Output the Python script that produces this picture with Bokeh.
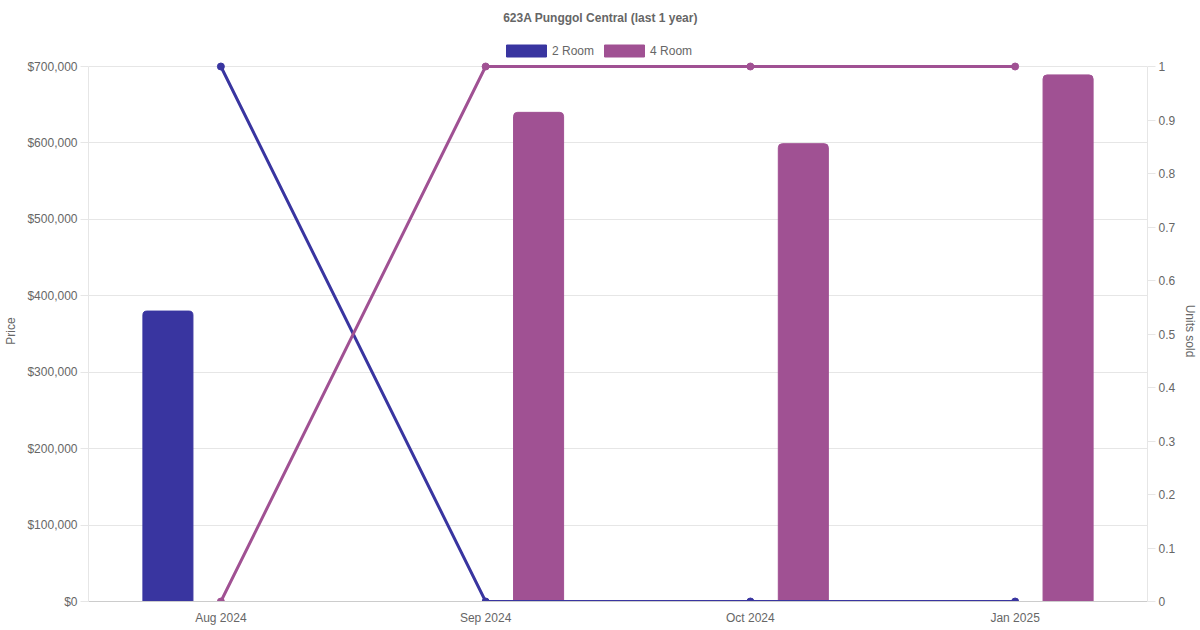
from bokeh.plotting import figure
from bokeh.layouts import column
from bokeh.models import (Range1d, LinearAxis, FactorRange, FixedTicker, NumeralTickFormatter,
                          CustomJSTickFormatter, Legend, LegendItem, ColumnDataSource, Label)
from bokeh.transform import dodge
from bokeh.embed import file_html
from bokeh.resources import INLINE

# ---- data ----
months = ["Aug 2024", "Sep 2024", "Oct 2024", "Jan 2025"]
price_2room = [380000, None, None, None]
price_4room = [None, 640000, 599000, 689000]
units_2room = [1, 0, 0, 0]
units_4room = [0, 1, 1, 1]
price_ticks = [0, 100000, 200000, 300000, 400000, 500000, 600000, 700000]
units_ticks = [0, 0.1, 0.2, 0.3, 0.4, 0.5, 0.6, 0.7, 0.8, 0.9, 1.0]
series_names = ["2 Room", "4 Room"]
title_text = "623A Punggol Central (last 1 year)"

C2 = "#3935a0"
C4 = "#a05193"
FONT = "Liberation Sans"
TXT = "#666666"
GRID = "#e6e6e6"

W = 1200
HEAD_H = 58                      # header strip: title + legend
MAIN_H = 630 - HEAD_H
LEFT, RIGHT, BOTTOM, TOP = 88, 53, 29, 2
FRAME_H = MAIN_H - TOP - BOTTOM
DATA_H = 535                     # pixel height of the 0..max band
ext = FRAME_H / DATA_H           # small headroom so top markers are not clipped

# ---------------- header (title + legend) ----------------
# (the column aligns the header's frame with the chart frame, which starts at LEFT)
head = figure(width=W, height=HEAD_H, x_range=Range1d(0, 1), y_range=Range1d(0, 1),
              x_axis_location=None, y_axis_location=None,
              output_backend="svg", toolbar_location=None,
              min_border_left=0, min_border_right=0, min_border_top=0, min_border_bottom=0)
head.grid.grid_line_color = None
head.outline_line_color = None
# legend proxies: placed outside the visible header range, only their swatches show
hb2 = head.vbar(x=[-5], top=[0], width=0.1, fill_color=C2, line_color=C2)
hb4 = head.vbar(x=[-5], top=[0], width=0.1, fill_color=C4, line_color=C4)
legend = Legend(items=[LegendItem(label=series_names[0], renderers=[hb2]),
                       LegendItem(label=series_names[1], renderers=[hb4])],
                orientation="horizontal", location=(501 - LEFT, 0),
                glyph_width=50, glyph_height=15, label_standoff=1, spacing=5,
                padding=0, margin=0, border_line_color=None, background_fill_alpha=0,
                label_text_font=FONT, label_text_font_size="12px", label_text_color=TXT)
head.add_layout(legend, "center")
head.add_layout(Label(x=W / 2 - LEFT, y=HEAD_H - 17, x_units="screen", y_units="screen",
                      text=title_text, text_align="center", text_baseline="middle",
                      text_font=FONT, text_font_size="12px", text_font_style="bold",
                      text_color=TXT))

# ---------------- main chart ----------------
p = figure(width=W, height=MAIN_H, x_range=FactorRange(factors=months),
           y_range=Range1d(0, price_ticks[-1] * ext), output_backend="svg",
           toolbar_location=None, min_border_left=LEFT, min_border_right=RIGHT,
           min_border_top=TOP, min_border_bottom=BOTTOM)
p.extra_y_ranges = {"units": Range1d(0, units_ticks[-1] * ext)}
p.outline_line_color = None

src2 = ColumnDataSource(dict(month=[m for m, v in zip(months, price_2room) if v is not None],
                             price=[v for v in price_2room if v is not None]))
src4 = ColumnDataSource(dict(month=[m for m, v in zip(months, price_4room) if v is not None],
                             price=[v for v in price_4room if v is not None]))

p.vbar(x=dodge("month", -0.2, range=p.x_range), top="price", width=0.189, source=src2,
       fill_color=C2, line_color=C2, border_radius=(4, 4, 0, 0))
p.vbar(x=dodge("month", 0.2, range=p.x_range), top="price", width=0.189, source=src4,
       fill_color=C4, line_color=C4, border_radius=(4, 4, 0, 0))

p.line(months, units_2room, y_range_name="units", line_color=C2, line_width=3)
p.scatter(months, units_2room, y_range_name="units", size=7, fill_color=C2, line_color=C2)
p.line(months, units_4room, y_range_name="units", line_color=C4, line_width=3)
p.scatter(months, units_4room, y_range_name="units", size=7, fill_color=C4, line_color=C4)

p.xgrid.grid_line_color = None
p.ygrid.grid_line_color = GRID
p.ygrid.ticker = FixedTicker(ticks=price_ticks)

xa = p.xaxis[0]
xa.axis_line_color = "#cccccc"
xa.major_tick_line_color = None
xa.major_tick_out = 0
xa.major_tick_in = 0
xa.minor_tick_line_color = None
xa.major_label_standoff = 9
xa.major_label_text_font = FONT
xa.major_label_text_font_size = "12px"
xa.major_label_text_color = TXT

ya = p.yaxis[0]
ya.ticker = FixedTicker(ticks=price_ticks)
ya.formatter = NumeralTickFormatter(format="$0,0")
ya.bounds = (price_ticks[0], price_ticks[-1])
ya.axis_line_color = GRID
ya.major_tick_line_color = GRID
ya.major_tick_out = 8
ya.major_tick_in = 0
ya.minor_tick_line_color = None
ya.major_label_standoff = 3
ya.major_label_text_font = FONT
ya.major_label_text_font_size = "12px"
ya.major_label_text_color = TXT
ya.axis_label = "Price"
ya.axis_label_standoff = 6
ya.axis_label_text_font = FONT
ya.axis_label_text_font_size = "12px"
ya.axis_label_text_font_style = "normal"
ya.axis_label_text_color = TXT

ra = LinearAxis(y_range_name="units", ticker=FixedTicker(ticks=units_ticks),
                formatter=CustomJSTickFormatter(code="return (Math.round(tick*10)/10).toString();"))
ra.bounds = (units_ticks[0], units_ticks[-1])
ra.axis_line_color = GRID
ra.major_tick_line_color = GRID
ra.major_tick_out = 8
ra.major_tick_in = 0
ra.minor_tick_line_color = None
ra.major_label_standoff = 3
ra.major_label_text_font = FONT
ra.major_label_text_font_size = "12px"
ra.major_label_text_color = TXT
ra.axis_label = "Units sold"
ra.axis_label_standoff = 5
ra.axis_label_text_font = FONT
ra.axis_label_text_font_size = "12px"
ra.axis_label_text_font_style = "normal"
ra.axis_label_text_color = TXT
p.add_layout(ra, "right")

page = column(head, p, spacing=0)
open("out.html", "w").write(file_html(page, INLINE))
